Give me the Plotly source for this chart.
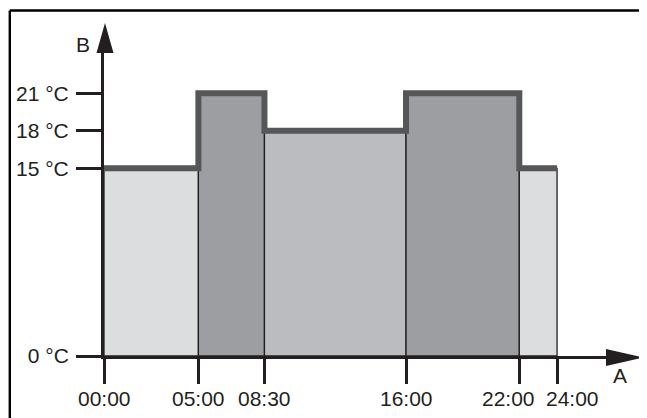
import plotly.graph_objects as go

# ---- data ----
times = [0, 5, 8.5, 16, 22, 24]                 # segment boundaries (hours)
temps = [15, 21, 18, 21, 15]                    # setpoint per segment (°C)
seg_colors = ["#dcdddf", "#9d9ea1", "#bbbcbf", "#9d9ea1", "#dcdddf"]
x_tick_vals = [0, 5, 8.5, 16, 22, 24]
x_tick_text = ["00:00", "05:00", "08:30", "16:00", "22:00", "24:00"]
y_tick_vals = [0, 15, 18, 21]
y_tick_text = ["0 °C", "15 °C", "18 °C", "21 °C"]
x_axis_label = "A"
y_axis_label = "B"

# ---- layout geometry (window pixels; page body has an 8px margin) ----
OFF = 8
W, H = 647 - OFF, 418 - OFF
L, R, T, B = 103.5, 607.0, 53.0, 356.0         # plot area edges (window px)
x24_px = 557.0
t15_px = 168.3
x_max = 24 * (R - L) / (x24_px - L)
y_max = 15 * (B - T) / (B - t15_px)

INK = "#231f20"
FONT = "Liberation Sans, Arial, sans-serif"
FS = 21
label_xshift = {22: -11, 24: 15}                # tick-label nudges (px)


def px(xp, yp):
    return (xp - L) / (R - L), (B - yp) / (B - T)


fig = go.Figure()

# filled segments
for i, t in enumerate(temps):
    x0, x1 = times[i], times[i + 1]
    fig.add_trace(go.Scatter(
        x=[x0, x0, x1, x1, x0], y=[0, t, t, 0, 0],
        mode="lines", fill="toself", fillcolor=seg_colors[i],
        line=dict(color=INK, width=1.3), hoverinfo="skip", showlegend=False,
    ))

# step outline
fig.add_trace(go.Scatter(
    x=times, y=temps + [temps[-1]], mode="lines",
    line=dict(color="#555658", width=6, shape="hv"),
    hoverinfo="skip", showlegend=False,
))

axis_common = dict(
    showgrid=False, zeroline=False, showline=True, linecolor=INK, linewidth=3,
    ticks="outside", tickcolor=INK, tickwidth=3, ticklen=25, automargin=False,
    tickfont=dict(family=FONT, size=FS, color=INK), tickmode="array",
)

fig.update_layout(
    width=W, height=H, autosize=False,
    margin=dict(l=L - OFF, r=W - (R - OFF), t=T - OFF, b=H - (B - OFF), pad=0),
    paper_bgcolor="white", plot_bgcolor="white",
    xaxis=dict(range=[0, x_max], tickvals=x_tick_vals, showticklabels=False,
               **axis_common),
    yaxis=dict(range=[0, y_max], tickvals=y_tick_vals, ticktext=y_tick_text,
               ticklabelstandoff=3, **axis_common),
)

# x tick labels, positioned on the x axis scale
_, lab_y = px(0, 398)
for v, txt in zip(x_tick_vals, x_tick_text):
    fig.add_annotation(x=v, y=lab_y, xref="x", yref="paper", text=txt,
                       showarrow=False, xshift=label_xshift.get(v, 0),
                       xanchor="center", yanchor="middle",
                       font=dict(family=FONT, size=FS, color=INK))

shapes = []
# arrowheads
ax0, ay0 = px(104.5, 53)
tipx, tipy = px(104.5, 23)
lx, _ = px(96, 53)
rx, _ = px(113, 53)
shapes.append(dict(type="path", xref="paper", yref="paper",
                   path=f"M {lx} {ay0} L {tipx} {tipy} L {rx} {ay0} Z",
                   fillcolor=INK, line=dict(width=0)))
bx, by = px(606, 357.5)
tx, ty = px(643, 357.5)
_, uy = px(606, 349)
_, dy = px(606, 366)
shapes.append(dict(type="path", xref="paper", yref="paper",
                   path=f"M {bx} {uy} L {tx} {ty} L {bx} {dy} Z",
                   fillcolor=INK, line=dict(width=0)))
# frame (top and left)
fx0, fy0 = px(9.2, 10.5)
fx1, _ = px(700, 10.5)
_, fy1 = px(9.2, 500)
shapes.append(dict(type="line", xref="paper", yref="paper",
                   x0=fx0, y0=fy0, x1=fx1, y1=fy0, line=dict(color="black", width=2.4)))
shapes.append(dict(type="line", xref="paper", yref="paper",
                   x0=fx0, y0=fy0, x1=fx0, y1=fy1, line=dict(color="black", width=2.4)))
fig.update_layout(shapes=shapes)

# axis letters
bxp, byp = px(82, 45)
axp, ayp = px(620, 375)
fig.add_annotation(x=bxp, y=byp, xref="paper", yref="paper", text=y_axis_label,
                   showarrow=False, xanchor="center", yanchor="middle",
                   font=dict(family=FONT, size=FS, color=INK))
fig.add_annotation(x=axp, y=ayp, xref="paper", yref="paper", text=x_axis_label,
                   showarrow=False, xanchor="center", yanchor="middle",
                   font=dict(family=FONT, size=FS, color=INK))

fig.write_html("out.html")
